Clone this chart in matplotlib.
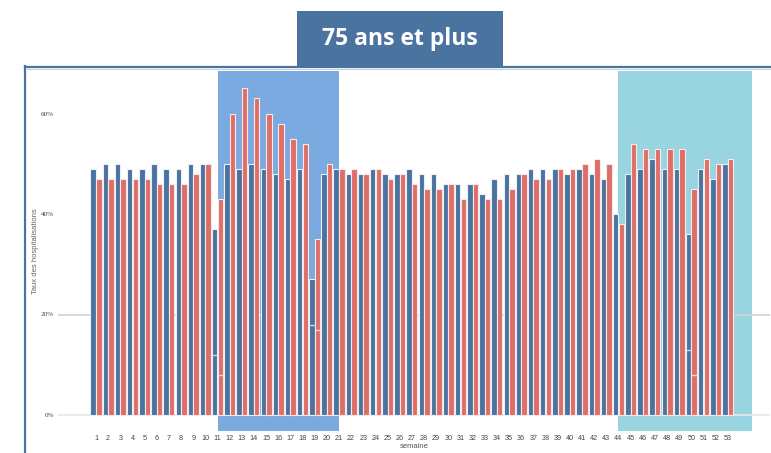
import matplotlib
matplotlib.use("Agg")
import matplotlib.pyplot as plt
from matplotlib.patches import Rectangle
from matplotlib.lines import Line2D

weeks = list(range(1, 54))
serie_a = [49, 50, 50, 49, 49, 50, 49, 49, 50, 50,
           37, 50, 49, 50, 49, 48, 47, 49, 27, 48,
           49, 48, 48, 49, 48, 48, 49, 48, 48, 46,
           46, 46, 44, 47, 48, 48, 49, 49, 49, 48,
           49, 48, 47, 40, 48, 49, 51, 49, 49, 36,
           49, 47, 50]
serie_b = [47, 47, 47, 47, 47, 46, 46, 46, 48, 50,
           43, 60, 65, 63, 60, 58, 55, 54, 35, 50,
           49, 49, 48, 49, 47, 48, 46, 45, 45, 46,
           43, 46, 43, 43, 45, 48, 47, 47, 49, 49,
           50, 51, 50, 38, 54, 53, 53, 53, 53, 45,
           51, 50, 51]
seg_weeks = [11, 19, 50]
seg_a = [12, 18, 13]
seg_b = [8, 17, 8]
periods = [(11, 21), (44, 55)]
period_colors = ["#7BAAE0", "#99D5E0"]
yticks = [0, 20, 40, 60]
ytick_labels = ["0%", "20%", "40%", "60%"]
grid_levels = [0, 20]
grid_colors = ["#E8E8E8", "#D2D2D2"]
title = "75 ans et plus"

W, H = 771, 453
fig = plt.figure(figsize=(W / 100, H / 100), dpi=100)
fig.patch.set_facecolor("white")

ax_l, ax_r, ax_t, ax_b = 58, 770, 71, 431
ax = fig.add_axes([ax_l / W, 1 - ax_b / H, (ax_r - ax_l) / W, (ax_b - ax_t) / H])
px_per_week = 12.15
xmin = 1 - (96 - ax_l) / px_per_week
ax.set_xlim(xmin, xmin + (ax_r - ax_l) / px_per_week)
px_per_pct = 5.025
ax.set_ylim(-(ax_b - 415) / px_per_pct, (415 - ax_t) / px_per_pct)

for (s, e), c in zip(periods, period_colors):
    ax.axvspan(s, e, ymin=0, ymax=1, color=c, zorder=0, lw=0)

for y, c in zip(grid_levels, grid_colors):
    ax.axhline(y, color=c, lw=1.2, zorder=1)

bw = 0.45
off = 0.23
blue, red = "#4A73A0", "#DE6F68"
ax.bar([w - off for w in weeks], serie_a, width=bw, color=blue,
       edgecolor="#EAF0F6", linewidth=0.8, zorder=2)
ax.bar([w + off for w in weeks], serie_b, width=bw, color=red,
       edgecolor="#F8E8E6", linewidth=0.8, zorder=2)
for w, a, b in zip(seg_weeks, seg_a, seg_b):
    ax.hlines(a, w - off - bw / 2, w - off + bw / 2, color="#C9D8EA", lw=1.0, zorder=3)
    ax.hlines(b, w + off - bw / 2, w + off + bw / 2, color="#F5D5D2", lw=1.0, zorder=3)

for sp in ax.spines.values():
    sp.set_visible(False)
ax.set_yticks(yticks)
ax.set_yticklabels(ytick_labels, fontsize=5.2, color="#444444", family="Liberation Serif")
ax.set_xticks(weeks)
ax.set_xticklabels([str(w) for w in weeks], fontsize=5.2, color="#444444",
                   family="Liberation Sans")
ax.tick_params(axis="both", length=0)
ax.tick_params(axis="x", pad=3)
ax.tick_params(axis="y", pad=3)
ax.set_xlabel("semaine", fontsize=5.5, color="#555555", family="Liberation Sans", labelpad=0.5)
ax.set_ylabel("Taux des hospitalisations", fontsize=5.5, color="#666666",
              family="Liberation Sans", labelpad=1)

# frame of the slide
fig.add_artist(Line2D([25 / W, 25 / W], [0, 1 - 66 / H], color="#4A73A0", lw=1.6))
fig.add_artist(Line2D([25 / W, 1], [1 - 66.5 / H, 1 - 66.5 / H], color="#4A73A0", lw=1.6))
fig.add_artist(Line2D([27 / W, 1], [1 - 68.5 / H, 1 - 68.5 / H], color="#B8C8DC", lw=0.6))

# title box
fig.add_artist(Rectangle((297 / W, 1 - 66 / H), 206 / W, 55 / H,
                         transform=fig.transFigure, facecolor="#4A73A0", edgecolor="none"))
fig.text(400 / W, 1 - 39 / H, title, ha="center", va="center", color="white",
         fontsize=16.5, fontweight="bold", family="Open Sans")

fig.savefig("out.png", dpi=100)
